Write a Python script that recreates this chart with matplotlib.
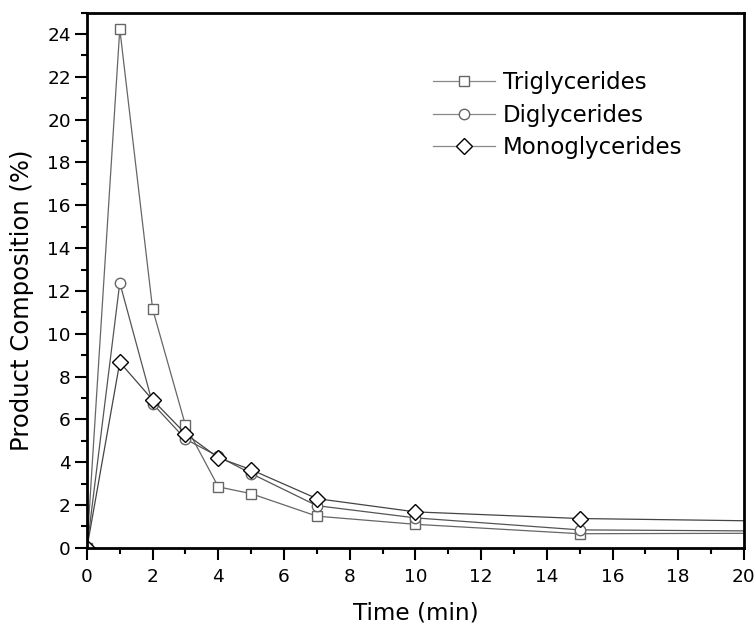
import matplotlib
matplotlib.use('Agg')
import matplotlib.pyplot as plt
from matplotlib.ticker import MultipleLocator

plt.rcParams['font.family'] = ['DejaVu Sans']

# reaction time (min) and product composition (%)
time = [0, 1, 2, 3, 4, 5, 7, 10, 15, 30]
triglycerides = [0, 24.24, 11.15, 5.72, 2.85, 2.53, 1.48, 1.10, 0.66, 0.72]
diglycerides = [0, 12.38, 6.73, 5.08, 4.27, 3.47, 1.97, 1.40, 0.84, 0.70]
monoglycerides = [0, 8.67, 6.91, 5.33, 4.21, 3.65, 2.30, 1.68, 1.37, 1.06]

fig = plt.figure(figsize=(7.56, 6.29), dpi=100)
ax = fig.add_axes((0.115, 0.129, 0.869, 0.851))

ax.plot(time, triglycerides, color='#666666', lw=0.9, marker='s', ms=7.3,
        mfc='white', mec='#666666', mew=1.0, label='Triglycerides')
ax.plot(time, diglycerides, color='#555555', lw=0.9, marker='o', ms=7.5,
        mfc='white', mec='#666666', mew=1.0, label='Diglycerides')
ax.plot(time, monoglycerides, color='#444444', lw=0.9, marker='D', ms=8,
        mfc='white', mec='black', mew=1.0, label='Monoglycerides')

ax.set_xlim(0, 20)
ax.set_ylim(0, 25)
ax.xaxis.set_major_locator(MultipleLocator(2))
ax.xaxis.set_minor_locator(MultipleLocator(1))
ax.yaxis.set_major_locator(MultipleLocator(2))
ax.yaxis.set_minor_locator(MultipleLocator(1))
ax.tick_params(which='major', direction='out', length=8.5, width=1.5,
               labelsize=13.3)
ax.tick_params(which='minor', direction='out', length=4.5, width=1.5)
ax.tick_params(axis='x', which='major', pad=6)
ax.tick_params(axis='y', which='major', pad=3)
for s in ax.spines.values():
    s.set_linewidth(2)

ax.set_xlabel('Time (min)', fontsize=16.7, labelpad=11)
ax.set_ylabel('Product Composition (%)', fontsize=17.5)
ax.yaxis.set_label_coords(-0.081, 0.463)

leg = ax.legend(loc='upper left', bbox_to_anchor=(433 / 756, 1 - 71 / 629),
                bbox_transform=fig.transFigure, frameon=False, fontsize=16.5,
                handlelength=2.7, handletextpad=0.35, labelspacing=0.42,
                borderpad=0, borderaxespad=0)
for h in leg.get_lines():
    h.set_color('#888888')

fig.savefig('out.png', dpi=100)
